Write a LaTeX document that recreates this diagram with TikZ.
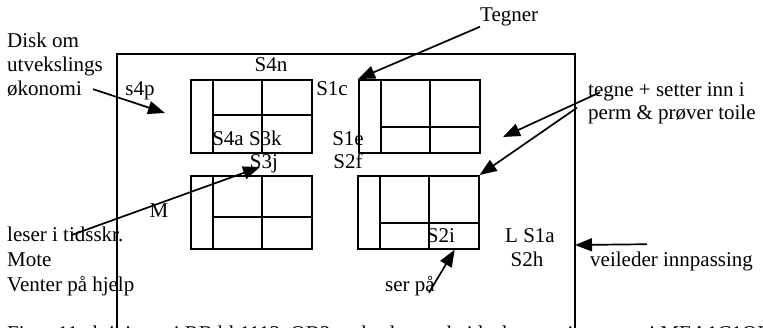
\documentclass[tikz,border=0pt]{standalone}
\usepackage{fontspec}
\setmainfont{Liberation Serif}
\usetikzlibrary{arrows.meta,positioning,calc}
\tikzset{
  thk/.style={line width=1.7pt},
  tbl/.style={draw,thk,minimum width=121pt,minimum height=73pt,inner sep=0pt,anchor=north west},
  arr/.style={-{Triangle[length=17pt,width=13pt]},thk},
  txt/.style={inner sep=0pt,anchor=base west},
  lbl/.style={inner sep=0pt,anchor=base},
}

\begin{document}
\begin{tikzpicture}[x=1pt,y=-1pt,every node/.style={font=\fontsize{21}{24}\selectfont}]
 \useasboundingbox (0,0) rectangle (763,328);
 \clip (0,0) rectangle (763,328);
 % room
 \draw[thk] (117,328) |- (575,54) -- (575,328);
 % tables
 \foreach \n/\x/\y/\h in {t1/190/79/36,t2/358/79/48,t3/190/175/42,t4/357/175/48}{
  \node[tbl] (\n) at (\x,\y) {};
  \draw[thk] (\x+23,\y) -- (\x+23,\y+73) (\x+72,\y) -- (\x+72,\y+73) (\x+23,\y+\h) -- (\x+121,\y+\h);
 }
 % labels in the room
 \node[lbl] (s4n) at (271,72) {S4n};
 \node[lbl] (s4p) at (140,96) {s4p};
 \node[lbl] (s1c) at (332,96) {S1c};
 \node[lbl] (s4a) at (247,146) {S4a S3k};
 \node[lbl] (s1e) at (348,146) {S1e};
 \node[lbl] (s3j) at (264,169) {S3j};
 \node[lbl] (s2f) at (348,169) {S2f};
 \node[lbl] (m) at (159,218) {M};
 \node[lbl] (s2i) at (441,243) {S2i};
 \node[lbl] (s1a) at (530,243) {L S1a};
 \node[lbl] (s2h) at (527,267) {S2h};
 % notes
 \node[txt] (dsk) at (7,48) {Disk om};
 \node[txt] (utv) at (7,72) {utvekslings};
 \node[txt] (eco) at (7,96) {økonomi};
 \node[txt] (teg) at (480,22) {Tegner};
 \node[txt] (tg1) at (588,97) {tegne + setter inn i};
 \node[txt] (tg2) at (588,120) {perm \& prøver toile};
 \node[txt] (les) at (7,242) {leser i tidsskr.};
 \node[txt] (mot) at (7,267) {Mote};
 \node[txt] (hjl) at (7,292) {Venter på hjelp};
 \node[txt] (ser) at (385,292) {ser på};
 \node[txt] (vei) at (590,267) {veileder innpassing};
 \node[txt] (cap) at (7,341) {Figur 11 aktiviteter i RB bl 1113, OB3 og bruk av arbeidsplassene i rommet i MEA1C1OB3};
 % arrows
 \coordinate (ecotip) at (165,113);
 \coordinate (tgtip) at (503,137);
 \coordinate (lestip) at (260,167);
 \coordinate (veitip) at (575,245);
 \draw[arr] ([xshift=11pt]eco.east) -- (ecotip);
 \draw[arr] (teg.south west) -- (t2.north west);
 \draw[arr] ([xshift=12pt]tg1.west) -- (tgtip);
 \draw[arr] ([shift={(-11,6)}]tg1.south west) -- (t4.north east);
 \draw[arr] ([xshift=65pt]les.west) -- (lestip);
 \draw[arr] ([shift={(-6,-4)}]ser.south east) -- ([xshift=-25pt]t4.south east);
 \draw[arr] ([shift={(57,-8)}]vei.north west) -- (veitip);
\end{tikzpicture}
\end{document}
